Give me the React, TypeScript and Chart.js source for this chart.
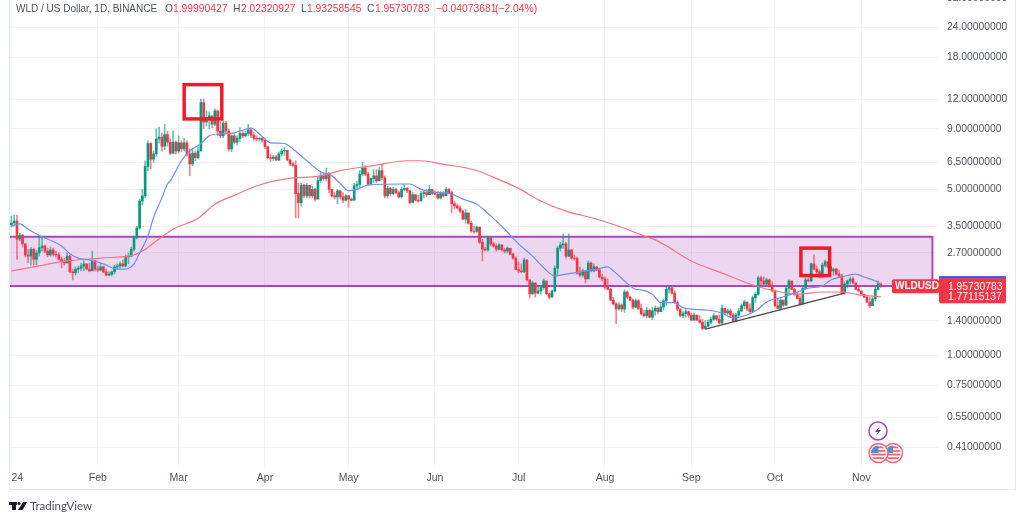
import React, { useEffect, useRef } from "react";
import { Chart, registerables } from "chart.js";

Chart.register(...registerables);

const monthStartDays = [0, 31, 60, 91, 121, 152, 182, 213, 244, 274, 305];
const monthNames = ["    24", "Feb", "Mar", "Apr", "May", "Jun", "Jul", "Aug", "Sep", "Oct", "Nov"];
const priceTicks = [32, 24, 18, 12, 9, 6.5, 5, 3.5, 2.7, 1.4, 1, 0.75, 0.55, 0.41];

const closes = [
  3.61,3.68,3.09,3.21,2.95,2.65,2.62,2.8,2.54,2.7,2.84,2.89,2.75,2.65,2.78,2.67,2.65,2.54,2.48,2.45,2.62,2.25,2.23,2.31,2.33,2.38,2.43,2.31,2.27,2.5,2.31,
  2.29,2.36,2.25,2.18,2.2,2.25,2.36,2.38,2.43,2.38,2.6,2.62,2.8,3.13,3.44,4.47,4.7,6.25,7.8,6.7,7.05,8.15,8.3,7.6,8.5,7.9,7.1,7.9,7.25,
  7.85,7.4,7.85,7.05,6.4,7.1,6.8,7.25,11.6,9.6,10.0,10.2,9.4,10.7,8.8,8.4,9.5,8.8,7.4,8.4,7.9,8.2,8.6,8.4,8.6,8.9,8.45,8.2,8.15,8.2,8.05,
  7.55,6.8,6.75,6.85,6.65,7.05,7.25,7.3,6.65,6.4,6.3,4.8,4.4,5.2,4.7,5.2,4.7,5.0,4.55,5.45,5.7,5.55,5.85,5.0,4.7,4.65,4.93,4.65,4.5,4.7,
  4.55,4.5,5.18,5.25,5.8,6.15,5.8,5.25,5.55,5.7,5.43,6.0,5.6,4.7,5.05,4.8,5.0,4.85,4.65,5.0,5.05,4.93,4.4,4.75,4.5,4.47,4.8,4.85,4.75,5.0,4.8,
  4.78,4.6,4.8,4.7,5.0,4.85,4.35,4.26,4.18,4.05,3.75,3.98,3.6,3.34,3.33,3.47,3.0,2.8,2.78,3.13,2.95,2.89,2.8,2.92,2.78,2.75,2.83,2.67,2.57,2.3,
  2.27,2.25,2.52,2.08,1.82,2.02,1.83,1.87,1.93,2.06,1.82,1.76,1.87,2.33,2.83,2.92,2.95,2.62,2.78,2.57,2.56,2.22,2.18,2.27,2.1,2.45,2.27,2.36,2.29,2.14,2.1,
  1.94,1.9,1.71,1.65,1.57,1.63,1.57,1.85,1.76,1.71,1.6,1.7,1.58,1.5,1.47,1.55,1.45,1.54,1.58,1.53,1.6,1.7,1.9,1.93,1.83,1.67,1.57,1.47,1.5,1.53,1.48,
  1.41,1.48,1.41,1.38,1.3,1.33,1.38,1.42,1.47,1.42,1.37,1.58,1.51,1.54,1.48,1.4,1.48,1.54,1.62,1.68,1.57,1.53,1.75,1.81,2.12,2.06,2.0,2.08,1.96,1.87,
  1.62,1.58,1.71,1.63,1.92,2.06,1.9,1.81,1.74,1.65,1.92,2.08,2.06,2.43,2.31,2.25,2.14,2.4,2.48,2.36,2.27,2.31,2.2,2.16,1.83,2.0,2.06,2.1,2.02,1.9,1.87,
  1.81,1.76,1.68,1.62,1.73,1.9,2.0,1.95730783,
];
const firstOpen = 3.55;
const highs = [
  3.86,3.9,3.9,3.27,3.24,2.95,2.8,2.85,2.83,2.78,3.18,3.18,2.92,2.83,2.86,2.83,2.75,2.7,2.6,2.57,2.7,2.65,2.31,2.36,2.38,2.45,2.5,2.43,2.45,2.75,2.52,
  2.38,2.43,2.38,2.31,2.25,2.27,2.4,2.43,2.48,2.52,2.65,2.7,2.86,3.18,3.5,4.55,5.0,6.6,8.0,7.85,7.25,9.0,9.15,8.6,9.4,8.8,8.15,8.8,8.0,
  8.4,8.0,8.2,8.0,7.4,7.4,7.25,7.55,12.0,12.0,10.7,10.6,10.1,10.9,10.8,9.7,9.7,9.7,9.0,8.5,8.6,8.4,9.1,8.8,8.8,9.4,9.0,8.7,8.4,8.3,8.3,
  8.2,7.6,7.05,6.95,6.95,7.2,7.4,7.5,7.3,6.7,6.5,6.6,5.3,5.3,5.25,5.3,5.05,5.15,5.05,5.65,5.9,5.85,6.15,5.9,5.0,4.85,5.0,4.95,4.85,4.75,
  4.72,4.6,5.3,5.4,6.0,6.5,6.3,5.9,5.6,6.05,6.05,6.2,6.4,5.7,5.15,5.1,5.1,5.05,4.93,5.1,5.25,5.1,4.95,4.85,4.75,4.72,4.9,4.93,5.0,5.2,5.0,
  4.93,4.9,4.9,4.9,5.1,5.05,4.93,4.47,4.35,4.26,4.1,4.13,3.98,3.68,3.5,3.5,3.47,3.09,2.86,3.18,3.13,3.0,2.95,2.95,2.92,2.83,2.86,2.78,2.7,2.6,
  2.48,2.43,2.57,2.54,2.08,2.06,2.02,1.94,1.96,2.1,1.96,1.83,1.89,2.38,2.89,3.0,3.25,3.0,3.25,2.8,2.65,2.6,2.36,2.31,2.25,2.5,2.48,2.43,2.36,2.31,2.2,
  2.14,2.1,1.92,1.76,1.67,1.67,1.65,1.89,1.87,1.78,1.73,1.73,1.72,1.65,1.55,1.6,1.57,1.6,1.62,1.6,1.65,1.73,1.94,1.96,1.92,1.87,1.7,1.57,1.53,1.57,1.54,
  1.51,1.51,1.48,1.47,1.42,1.41,1.41,1.45,1.5,1.48,1.48,1.63,1.57,1.57,1.57,1.51,1.51,1.58,1.65,1.71,1.65,1.65,1.78,1.85,2.16,2.16,2.14,2.12,2.1,2.04,
  1.89,1.73,1.76,1.71,1.96,2.08,2.04,1.92,1.87,1.78,1.96,2.12,2.12,2.45,2.65,2.38,2.29,2.45,2.52,2.48,2.38,2.33,2.33,2.29,2.2,2.04,2.08,2.14,2.14,2.0,1.94,
  1.85,1.81,1.78,1.76,1.76,1.94,2.06,2.0232,
];
const lows = [
  3.47,3.5,2.54,3.03,2.86,2.6,2.45,2.4,2.4,2.4,2.62,2.75,2.7,2.6,2.62,2.62,2.6,2.52,2.34,2.4,2.45,2.23,2.08,2.18,2.23,2.27,2.27,2.29,2.25,2.31,2.27,
  2.25,2.27,2.23,2.16,2.16,2.16,2.2,2.31,2.33,2.36,2.36,2.43,2.6,2.75,3.09,3.4,4.3,4.6,6.0,6.1,6.5,6.9,7.85,7.25,7.35,7.6,7.0,7.05,7.05,
  7.1,7.2,7.25,6.9,5.7,6.3,6.6,6.7,7.4,9.0,9.25,9.0,9.1,9.25,8.4,8.25,8.25,8.55,7.25,7.2,7.75,7.7,7.95,8.25,8.3,8.4,8.25,8.05,8.0,8.0,7.9,
  7.4,6.75,6.55,6.6,6.6,6.6,6.9,6.95,6.6,6.3,6.25,3.8,3.8,4.25,4.6,4.6,4.6,4.6,4.47,4.9,5.35,5.45,5.43,4.85,4.65,4.55,4.35,4.55,4.4,4.47,
  4.2,4.47,4.6,5.0,5.05,5.7,5.7,5.18,5.3,5.35,5.35,5.65,5.5,4.6,4.6,4.7,4.75,4.8,4.6,4.6,4.93,4.85,4.35,4.47,4.47,4.42,4.47,4.6,4.65,4.75,4.75,
  4.75,4.55,4.55,4.65,4.7,4.8,3.98,4.13,4.13,3.98,3.72,3.6,3.57,3.3,3.27,3.3,2.95,2.5,2.75,2.75,2.89,2.86,2.75,2.78,2.75,2.7,2.7,2.65,2.54,2.29,
  2.23,2.23,2.23,2.06,1.75,1.8,1.76,1.81,1.81,1.89,1.8,1.73,1.78,1.85,2.16,2.75,2.83,2.57,2.6,2.54,2.52,2.2,2.14,2.14,2.02,2.1,2.25,2.25,2.27,2.12,2.06,
  1.9,1.89,1.7,1.63,1.36,1.55,1.53,1.52,1.73,1.7,1.57,1.59,1.56,1.48,1.45,1.44,1.44,1.42,1.48,1.5,1.53,1.55,1.62,1.83,1.81,1.65,1.54,1.45,1.44,1.45,1.45,
  1.4,1.4,1.4,1.37,1.28,1.29,1.32,1.36,1.4,1.4,1.36,1.36,1.48,1.49,1.45,1.39,1.39,1.45,1.53,1.57,1.54,1.51,1.54,1.67,1.79,1.98,1.98,1.98,1.94,1.85,
  1.6,1.57,1.55,1.6,1.62,1.8,1.89,1.79,1.73,1.63,1.65,1.9,2.04,2.04,2.29,2.2,2.12,2.12,2.36,2.33,2.25,2.18,2.18,2.14,1.81,1.81,1.92,2.0,2.0,1.89,1.85,
  1.8,1.75,1.67,1.59,1.62,1.7,1.89,1.93258545,
];

const fastDays = [0,3,6,10,13,18,21,24,28,33,38,41,44,46,49,51,54,56,57,61,64,68,71,74,80,82,86,89,93,98,101,106,111,115,118,121,124,128,141,143,147,151,158,162,167,172,177,182,187,191,195,197,204,210,214,216,220,224,226,230,233,238,241,250,255,259,264,268,271,276,281,286,291,294,298,303,306,310,312];
const fastValues = [3.5,3.58,3.4,3.2,3.09,2.89,2.68,2.57,2.52,2.43,2.31,2.31,2.43,2.7,3.18,3.8,4.6,5.27,5.43,6.6,7.25,7.8,8.4,8.55,8.65,8.8,9.05,8.55,7.85,7.8,7.4,6.6,5.93,5.7,5.3,4.93,5.0,5.22,5.27,5.27,5.0,4.88,4.78,4.55,4.33,3.87,3.4,2.95,2.62,2.34,2.16,2.18,2.25,2.31,2.36,2.27,2.06,1.9,1.89,1.81,1.67,1.67,1.59,1.55,1.51,1.44,1.48,1.57,1.68,1.75,1.83,1.92,1.96,2.08,2.14,2.2,2.14,2.06,2.0];
const slowDays = [0,8,20,32,44,47,52,58,67,73,80,89,99,111,118,130,142,147,154,166,176,182,190,199,209,220,226,232,244,256,266,274,282,291,298,304,312];
const slowValues = [2.27,2.36,2.5,2.57,2.65,2.75,3.03,3.4,3.78,4.33,4.72,5.22,5.55,5.7,6.0,6.3,6.6,6.6,6.4,6.05,5.43,5.05,4.47,4.05,3.78,3.43,3.22,3.03,2.5,2.2,1.98,1.87,1.81,1.85,1.85,1.8,1.77];
const trendDays = [249, 299];
const trendValues = [1.29, 1.83];

const zoneDays = [0, 330.5];
const zonePrices = [1.96, 3.16];
const boxDays = [[62, 75.5], [283.3, 293.6]];
const boxPrices = [[13.8, 9.9], [2.83, 2.17]];

const legendParts: [string, string][] = [
  ["WLD / US Dollar, 1D, BINANCE", "#50535e"], ["O", "#50535e"], ["1.99990427", "#f23645"],
  ["H", "#50535e"], ["2.02320927", "#f23645"], ["L", "#50535e"], ["1.93258545", "#f23645"],
  ["C", "#50535e"], ["1.95730783", "#f23645"], ["\u22120.04073681", "#f23645"], ["(\u22122.04%)", "#f23645"],
];
const legendX = [16, 165, 173, 233, 241, 301, 307, 367, 375, 436, 495];

const priceTag = "WLDUSD";
const lastPriceLabel = "1.95730783";
const slowPriceLabel = "1.77115137";
const brand = "TradingView";

const UP = "#089981";
const DOWN = "#f23645";
const OFFSET = 12; // canvas sits this far above the page top, so the 32 tick is cropped

const TOTAL_SLOTS = 333;
const labels: string[] = [];
for (let d = 0; d < TOTAL_SLOTS; d++) labels.push(`d${d}`);

const opens = closes.map((_, i) => (i === 0 ? firstOpen : closes[i - 1]));
const colours = closes.map((c, i) => (c >= opens[i] ? UP : DOWN));
const wickColours = colours.map((c) => (c === UP ? "rgba(8,153,129,0.62)" : "rgba(242,54,69,0.62)"));

const FONT = '"Liberation Sans", Arial, sans-serif';

const zeroPadding = (scale: any) => {
  scale.paddingLeft = 0;
  scale.paddingRight = 0;
  scale.paddingTop = 0;
  scale.paddingBottom = 0;
};

const overlay = {
  id: "overlay",
  beforeDatasetsDraw(chart: any) {
    const { ctx, scales } = chart;
    const x = scales.x, y = scales.y;
    const l = x.getPixelForValue(zoneDays[0]) - 2;
    const r = x.getPixelForValue(zoneDays[1]);
    const t = y.getPixelForValue(zonePrices[1]);
    const b = y.getPixelForValue(zonePrices[0]);
    ctx.save();
    ctx.fillStyle = "rgba(171,71,188,0.22)";
    ctx.fillRect(l, t, r - l, b - t);
    ctx.strokeStyle = "#ab47bc";
    ctx.lineWidth = 2;
    ctx.beginPath();
    ctx.moveTo(l, t); ctx.lineTo(r, t); ctx.lineTo(r, b); ctx.lineTo(l, b);
    ctx.stroke();
    ctx.restore();
  },
  afterDatasetsDraw(chart: any) {
    const { ctx, scales } = chart;
    const x = scales.x, y = scales.y;
    ctx.save();
    // red highlight boxes
    ctx.strokeStyle = "#ee1c2a";
    ctx.lineWidth = 3.5;
    boxDays.forEach((d, k) => {
      const x0 = x.getPixelForValue(d[0]), x1 = x.getPixelForValue(d[1]);
      const y0 = y.getPixelForValue(boxPrices[k][0]), y1 = y.getPixelForValue(boxPrices[k][1]);
      ctx.strokeRect(x0, y0, x1 - x0, y1 - y0);
    });

    // frame
    ctx.strokeStyle = "#e8eaf0";
    ctx.lineWidth = 1;
    ctx.beginPath();
    ctx.moveTo(9.5, 0); ctx.lineTo(9.5, 489.5 + OFFSET); ctx.lineTo(1015.5, 489.5 + OFFSET); ctx.lineTo(1015.5, 0);
    ctx.stroke();

    // legend
    ctx.textBaseline = "middle";
    ctx.textAlign = "left";
    legendParts.forEach(([t, c], i) => {
      ctx.font = i === 0 ? `10px ${FONT}` : `10.3px ${FONT}`;
      ctx.fillStyle = c;
      ctx.fillText(t, legendX[i], 9 + OFFSET);
    });

    // price labels
    const py = y.getPixelForValue(closes[closes.length - 1]);
    ctx.fillStyle = DOWN;
    ctx.beginPath();
    ctx.roundRect(892, py - 7, 47, 14, 2);
    ctx.fill();
    ctx.fillStyle = "#fff";
    ctx.font = `bold 10px ${FONT}`;
    ctx.fillText(priceTag, 895, py + 0.5);

    const bt = py - 10, bh = 27;
    ctx.fillStyle = DOWN;
    ctx.beginPath();
    ctx.roundRect(939, bt, 67, bh, 2);
    ctx.fill();
    ctx.fillStyle = "#2962ff";
    ctx.fillRect(939, bt, 67, 2);
    ctx.save();
    ctx.beginPath();
    ctx.rect(939, bt, 67, bh);
    ctx.clip();
    ctx.fillStyle = "#fff";
    ctx.font = `10.3px ${FONT}`;
    ctx.fillText(lastPriceLabel, 948, py + 0.5);
    ctx.fillText(slowPriceLabel, 948, py + 11);
    ctx.restore();

    // lightning event marker
    const ey = 431 + OFFSET;
    ctx.strokeStyle = "#ab47bc";
    ctx.lineWidth = 1.5;
    ctx.fillStyle = "#fff";
    ctx.beginPath(); ctx.arc(878, ey, 9, 0, Math.PI * 2); ctx.fill(); ctx.stroke();
    ctx.fillStyle = "#9c27b0";
    ctx.beginPath();
    ctx.moveTo(880, ey - 5); ctx.lineTo(875, ey + 1); ctx.lineTo(878, ey + 1);
    ctx.lineTo(876, ey + 5); ctx.lineTo(881, ey - 1); ctx.lineTo(878, ey - 1);
    ctx.closePath(); ctx.fill();

    // flag markers
    const fy = 453 + OFFSET;
    [893, 878.5].forEach((fx) => {
      ctx.save();
      ctx.beginPath(); ctx.arc(fx, fy, 9.5, 0, Math.PI * 2);
      ctx.fillStyle = "#fff"; ctx.fill();
      ctx.strokeStyle = "#f7646f"; ctx.lineWidth = 1.5; ctx.stroke();
      ctx.beginPath(); ctx.arc(fx, fy, 7.5, 0, Math.PI * 2); ctx.clip();
      ctx.fillStyle = "#f0f0f0"; ctx.fillRect(fx - 8, fy - 8, 16, 16);
      ctx.fillStyle = "#f2606c";
      for (let s = 0; s < 4; s++) ctx.fillRect(fx - 8, fy - 6.5 + s * 3.6, 16, 1.7);
      ctx.fillStyle = "#4d8fe0"; ctx.fillRect(fx - 8, fy - 8, 8, 8);
      ctx.restore();
    });

    // brand
    ctx.fillStyle = "#131722";
    ctx.fillRect(9, 502 + OFFSET, 8, 3);
    ctx.fillRect(12, 502 + OFFSET, 4, 8);
    ctx.beginPath(); ctx.arc(19, 503.5 + OFFSET, 1.5, 0, Math.PI * 2); ctx.fill();
    ctx.beginPath();
    ctx.moveTo(23, 502 + OFFSET); ctx.lineTo(27, 502 + OFFSET); ctx.lineTo(22.5, 510 + OFFSET); ctx.lineTo(18, 510 + OFFSET);
    ctx.closePath(); ctx.fill();
    ctx.fillStyle = "#4a4e59";
    ctx.font = `11.5px Lato, ${FONT}`;
    ctx.fillText(brand, 30, 506 + OFFSET);
    ctx.restore();
  },
};

export default function App() {
  const ref = useRef<HTMLCanvasElement | null>(null);
  useEffect(() => {
    if (!ref.current) return;
    const chart = new Chart(ref.current, {
      type: "bar",
      plugins: [overlay],
      data: {
        labels,
        datasets: [
          {
            type: "line",
            data: fastDays.map((d, k) => ({ x: labels[d], y: fastValues[k] })),
            borderColor: "#6f8ff5",
            borderWidth: 1.2,
            pointRadius: 0,
            cubicInterpolationMode: "monotone",
            order: 1,
          },
          {
            type: "line",
            data: slowDays.map((d, k) => ({ x: labels[d], y: slowValues[k] })),
            borderColor: "#f4757f",
            borderWidth: 1.2,
            pointRadius: 0,
            cubicInterpolationMode: "monotone",
            order: 1,
          },
          {
            type: "line",
            data: trendDays.map((d, k) => ({ x: labels[d], y: trendValues[k] })),
            borderColor: "#4a4a4a",
            borderWidth: 1.3,
            pointRadius: 0,
            order: 1,
          },
          {
            type: "bar",
            data: closes.map((_, i) => [lows[i], highs[i]]),
            backgroundColor: wickColours,
            barThickness: 1,
            grouped: false,
            order: 3,
          },
          {
            type: "bar",
            data: closes.map((c, i) => [opens[i], c]),
            backgroundColor: colours,
            barThickness: 2,
            grouped: false,
            order: 2,
          },
        ] as any,
      },
      options: {
        responsive: false,
        animation: false,
        events: [],
        layout: { autoPadding: false, padding: { left: 10, right: 0, top: 8, bottom: 0 } },
        plugins: { legend: { display: false }, tooltip: { enabled: false } },
        scales: {
          x: {
            type: "category",
            offset: true,
            grid: { color: "#f0f3fa", drawTicks: false, offset: false },
            border: { display: false },
            afterBuildTicks(scale: any) {
              scale.ticks = monthStartDays.map((v) => ({ value: v }));
            },
            afterFit(scale: any) {
              scale.height = 54;
              zeroPadding(scale);
            },
            ticks: {
              autoSkip: false,
              maxRotation: 0,
              padding: 5,
              color: "#50535e",
              font: { family: FONT, size: 10.5 },
              callback(value: any) {
                return monthNames[monthStartDays.indexOf(Number(value))];
              },
            },
          },
          y: {
            type: "logarithmic",
            position: "right",
            bounds: "data",
            min: 0.3395,
            max: 32.57,
            grid: { color: "#f0f3fa", drawTicks: false },
            border: { display: false },
            afterBuildTicks(scale: any) {
              scale.ticks = priceTicks.map((v) => ({ value: v }));
            },
            afterFit(scale: any) {
              scale.width = 86;
              zeroPadding(scale);
            },
            ticks: {
              autoSkip: false,
              padding: 9,
              color: "#50535e",
              font: { family: FONT, size: 10.3 },
              callback(value: any) {
                return Number(value).toFixed(8);
              },
            },
          },
        },
      } as any,
    });
    return () => chart.destroy();
  }, []);

  return (
    <div style={{ position: "absolute", left: 0, top: 0, width: 1024, height: 521, overflow: "hidden", background: "#fff" }}>
      <canvas ref={ref} width={1024} height={521 + OFFSET} style={{ position: "absolute", left: 0, top: -OFFSET, display: "block" }} />
    </div>
  );
}
